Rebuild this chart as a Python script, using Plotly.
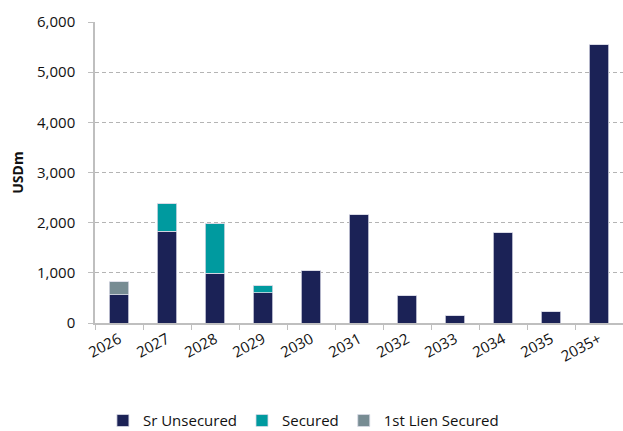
import plotly.graph_objects as go

categories = ["2026", "2027", "2028", "2029", "2030", "2031", "2032", "2033", "2034", "2035", "2035+"]
sr_unsecured = [560, 1830, 990, 600, 1040, 2170, 540, 150, 1810, 230, 5550]
secured = [0, 560, 995, 140, 0, 0, 0, 0, 0, 0, 0]
first_lien = [260, 0, 0, 0, 0, 0, 0, 0, 0, 0, 0]
y_ticks = [0, 1000, 2000, 3000, 4000, 5000, 6000]
y_tick_labels = ["0", "1,000", "2,000", "3,000", "4,000", "5,000", "6,000"]

FONT = "Open Sans"
TXT = "#111111"
fig = go.Figure()
for name, vals, color in [
    ("Sr Unsecured", sr_unsecured, "#1B2256"),
    ("Secured", secured, "#009A9F"),
    ("1st Lien Secured", first_lien, "#778C93"),
]:
    fig.add_trace(go.Bar(x=categories, y=vals, name=name,
                         marker=dict(color=color, line=dict(color="#D9DBE6", width=0.8))))

fig.update_layout(
    barmode="stack",
    bargap=0.6,
    width=623, height=431,
    margin=dict(l=95, r=0, t=22, b=108, autoexpand=False),
    plot_bgcolor="white", paper_bgcolor="white",
    font=dict(family=FONT, size=15, color=TXT),
    showlegend=True,
    legend=dict(orientation="h", x=0.015, xanchor="left", xref="paper",
                y=-0.27, yanchor="top", yref="paper",
                font=dict(family=FONT, size=15, color=TXT),
                traceorder="normal", itemwidth=30),
)
fig.update_xaxes(showline=True, linecolor="#BFBFBF", linewidth=1.5,
                 ticks="outside", tickson="boundaries", ticklen=5, tickcolor="#BFBFBF",
                 tickangle=-28, tickfont=dict(family=FONT, size=15, color=TXT),
                 showgrid=False)
fig.update_yaxes(range=[0, 6000], tickvals=y_ticks, ticktext=y_tick_labels,
                 showline=True, linecolor="#BFBFBF", linewidth=1.5,
                 ticks="outside", ticklen=5, tickcolor="#BFBFBF", ticklabelstandoff=10,
                 showgrid=True, gridcolor="#B4B4B4", griddash="4px,3px", gridwidth=1,
                 zeroline=False, tickfont=dict(family=FONT, size=15, color=TXT),
                 title=dict(text="<b>USDm</b>", font=dict(family=FONT, size=14, color=TXT), standoff=10))
fig.write_html("out.html", config={"displayModeBar": False},
               post_script="document.body.style.margin='0';document.body.style.overflow='hidden';")
